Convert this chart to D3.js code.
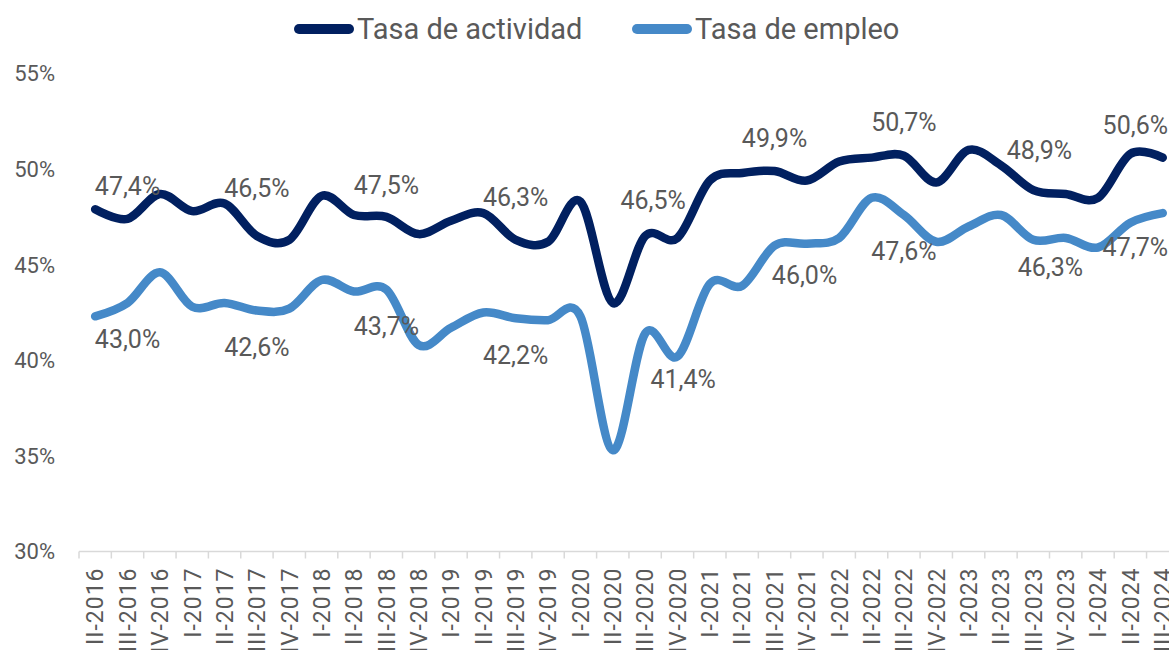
<!DOCTYPE html>
<html>
<head>
<meta charset="utf-8">
<script src="https://cdn.jsdelivr.net/npm/d3@7"></script>
<style>
  body { margin: 0; background: white; }
  svg { display: block; font-family: Roboto, "Noto Sans", sans-serif; }
</style>
</head>
<body>
<svg id="chart"></svg>
<script>
var quarters = ["II-2016","III-2016","IV-2016","I-2017","II-2017","III-2017","IV-2017",
    "I-2018","II-2018","III-2018","IV-2018","I-2019","II-2019","III-2019","IV-2019",
    "I-2020","II-2020","III-2020","IV-2020","I-2021","II-2021","III-2021","IV-2021",
    "I-2022","II-2022","III-2022","IV-2022","I-2023","II-2023","III-2023","IV-2023",
    "I-2024","II-2024","III-2024"];

var actividad = [47.9, 47.4, 48.7, 47.8, 48.2, 46.5, 46.3, 48.6, 47.6, 47.5, 46.6, 47.3,
    47.7, 46.3, 46.2, 48.3, 43.0, 46.5, 46.4, 49.4, 49.8, 49.9, 49.4, 50.4, 50.6, 50.7,
    49.3, 51.0, 50.2, 48.9, 48.7, 48.5, 50.8, 50.6];

var empleo = [42.3, 43.0, 44.6, 42.8, 43.0, 42.6, 42.7, 44.2, 43.6, 43.7, 40.8, 41.7,
    42.5, 42.2, 42.1, 42.3, 35.3, 41.4, 40.2, 44.0, 43.9, 46.0, 46.1, 46.4, 48.5, 47.6,
    46.2, 47.0, 47.6, 46.3, 46.4, 45.9, 47.2, 47.7];

var yTicks = [30, 35, 40, 45, 50, 55];

// labels only on the III quarters
var labelIdx = [1, 5, 9, 13, 17, 21, 25, 29, 33];

// the labels were dragged by hand in the original, so nudge them (px)
var actNudgeX = [0, 0, 0, 0, 8, 0, 0, 6, 0];
var actNudgeY = [-33, -48, -32, -43, -36, -33, -34, -40, -33];
var empNudgeX = [0, 0, 0, 0, 38, 30, 0, 17, 0];
var empNudgeY = [36, 36.5, 36, 37, 45, 29, 36, 27.5, 34];

var width = 1169, height = 650;
var textColor = "#595959";
var darkBlue = "#012060";
var lightBlue = "#4589c8";

var svg = d3.select("#chart")
    .attr("width", width)
    .attr("height", height);

var xScale = d3.scaleBand()
    .domain(quarters)
    .range([79, 79 + 32.35 * quarters.length])
    .padding(0);

var yScale = d3.scaleLinear()
    .domain([30, 55])
    .range([551.5, 73.5]);

var xc = d => xScale(d) + xScale.bandwidth() / 2;
var fmt = v => v.toFixed(1).replace(".", ",") + "%";

// y tick labels, no axis line
svg.append("g")
    .selectAll("text")
    .data(yTicks)
    .join("text")
    .attr("x", 55)
    .attr("y", d => yScale(d))
    .attr("dy", "0.36em")
    .attr("text-anchor", "end")
    .style("font-size", "22px")
    .style("fill", textColor)
    .text(d => d + "%");

// x axis with ticks between categories
var xAxis = svg.append("g")
    .attr("transform", "translate(0," + 551.5 + ")");

xAxis.append("line")
    .attr("x1", xScale.range()[0])
    .attr("x2", xScale.range()[1])
    .attr("stroke", "#d9d9d9")
    .attr("stroke-width", 1.5);

xAxis.selectAll("line.tick")
    .data(quarters)
    .join("line")
    .attr("class", "tick")
    .attr("x1", d => xScale(d))
    .attr("x2", d => xScale(d))
    .attr("y1", 0)
    .attr("y2", 7)
    .attr("stroke", "#d9d9d9")
    .attr("stroke-width", 1.5);

xAxis.selectAll("text")
    .data(quarters)
    .join("text")
    .attr("transform", d => "translate(" + xc(d) + ",16) rotate(-90)")
    .attr("dy", "0.36em")
    .attr("text-anchor", "end")
    .style("font-size", "23px")
    .style("letter-spacing", "1px")
    .style("fill", textColor)
    .text(d => d);

var line = d3.line()
    .x((d, i) => xc(quarters[i]))
    .y(d => yScale(d))
    .curve(d3.curveCatmullRom.alpha(0));

var series = [
    { name: "Tasa de actividad", values: actividad, color: darkBlue, nx: actNudgeX, ny: actNudgeY },
    { name: "Tasa de empleo", values: empleo, color: lightBlue, nx: empNudgeX, ny: empNudgeY }
];

svg.selectAll("path.line")
    .data(series)
    .join("path")
    .attr("class", "line")
    .attr("d", d => line(d.values))
    .attr("fill", "none")
    .attr("stroke", d => d.color)
    .attr("stroke-width", 8.5)
    .attr("stroke-linejoin", "round")
    .attr("stroke-linecap", "round");

series.forEach(function (s) {
    var last = quarters.length - 1;
    svg.append("g")
        .selectAll("text")
        .data(labelIdx)
        .join("text")
        .attr("x", (i, k) => i == last ? width - 1 : xc(quarters[i]) + s.nx[k])
        .attr("y", (i, k) => yScale(s.values[i]) + s.ny[k])
        .attr("dy", "0.36em")
        .attr("text-anchor", i => i == last ? "end" : "middle")
        .style("font-size", "25px")
        .style("fill", textColor)
        .text(i => fmt(s.values[i]));
});

// legend
var legendPos = [299, 637];
var legend = svg.selectAll("g.legend")
    .data(series)
    .join("g")
    .attr("class", "legend")
    .attr("transform", (d, i) => "translate(" + legendPos[i] + ",29)");

legend.append("line")
    .attr("x1", 0)
    .attr("x2", 50)
    .attr("stroke", d => d.color)
    .attr("stroke-width", 10)
    .attr("stroke-linecap", "round");

legend.append("text")
    .attr("x", 58)
    .attr("y", 9.5)
    .style("font-size", "29px")
    .style("fill", textColor)
    .text(d => d.name);
</script>
</body>
</html>
